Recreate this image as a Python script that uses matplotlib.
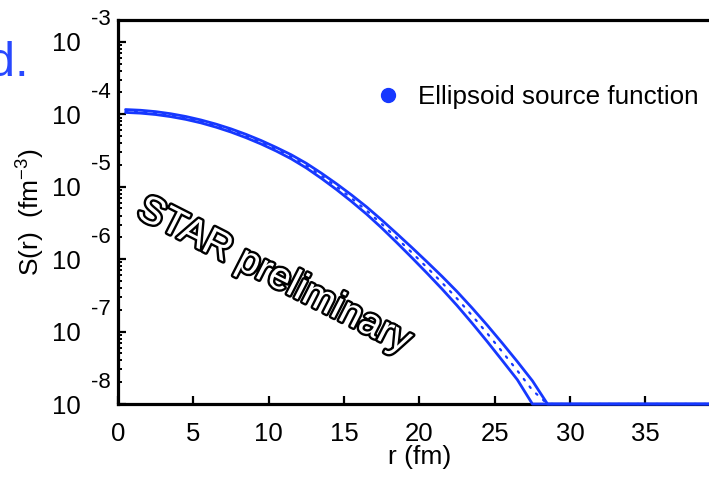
import numpy as np
import matplotlib
matplotlib.use("Agg")
import matplotlib.pyplot as plt
from matplotlib.lines import Line2D
import matplotlib.patheffects as pe
from matplotlib.ticker import FixedLocator, FixedFormatter, LogLocator, NullFormatter

plt.rcParams["font.family"] = ["Liberation Sans", "DejaVu Sans"]
plt.rcParams["mathtext.fontset"] = "custom"
plt.rcParams["mathtext.rm"] = "Liberation Sans"
plt.rcParams["mathtext.it"] = "Liberation Sans:italic"

# ---------------- data ----------------
r_fm = [0.5, 1.5, 2.5, 3.5, 4.5, 5.5, 6.5, 7.5, 8.5, 9.5,
        10.5, 11.5, 12.5, 13.5, 14.5, 15.5, 16.5, 17.5, 18.5, 19.5,
        20.5, 21.5, 22.5, 23.5, 24.5, 25.5, 26.5, 27.5, 28.5, 29.5,
        30.5, 31.5, 32.5, 33.5, 34.5, 35.5, 36.5, 37.5, 38.5, 39.5]

# log10 of S(r) [fm^-3]; values below the plot floor are drawn at the floor (1e-8)
log_S_central = [-3.955, -3.965, -3.984, -4.013, -4.051, -4.099, -4.157, -4.224, -4.301, -4.387,
                 -4.483, -4.588, -4.710, -4.850, -5.000, -5.160, -5.330, -5.515, -5.710, -5.910,
                 -6.115, -6.325, -6.545, -6.780, -7.025, -7.280, -7.540, -7.810, -8.0, -8.0,
                 -8.0, -8.0, -8.0, -8.0, -8.0, -8.0, -8.0, -8.0, -8.0, -8.0]
log_S_upper = [-3.935, -3.945, -3.964, -3.993, -4.031, -4.079, -4.136, -4.202, -4.278, -4.363,
               -4.458, -4.560, -4.678, -4.814, -4.960, -5.115, -5.280, -5.460, -5.648, -5.840,
               -6.037, -6.238, -6.449, -6.675, -6.912, -7.160, -7.415, -7.680, -8.0, -8.0,
               -8.0, -8.0, -8.0, -8.0, -8.0, -8.0, -8.0, -8.0, -8.0, -8.0]
log_S_lower = [-3.975, -3.985, -4.004, -4.033, -4.071, -4.119, -4.178, -4.246, -4.324, -4.411,
               -4.508, -4.616, -4.742, -4.886, -5.040, -5.205, -5.380, -5.570, -5.772, -5.980,
               -6.193, -6.412, -6.641, -6.885, -7.138, -7.400, -7.665, -8.0, -8.0, -8.0,
               -8.0, -8.0, -8.0, -8.0, -8.0, -8.0, -8.0, -8.0, -8.0, -8.0]

x_ticks = [0, 5, 10, 15, 20, 25, 30, 35]
x_tick_labels = ["0", "5", "10", "15", "20", "25", "30", "35"]
y_decades = [-8, -7, -6, -5, -4, -3]
y_exp_labels = ["-8", "-7", "-6", "-5", "-4", "-3"]

legend_label = "Ellipsoid source function"
watermark = "STAR preliminary"
panel_label = "d."

BLUE = "#1638ff"
PANEL_BLUE = "#2848ff"

# ---------------- figure ----------------
W, H = 709, 500
fig = plt.figure(figsize=(W / 100, H / 100), dpi=100)
ax = fig.add_axes([118 / W, (H - 404) / H, 602.8 / W, 384 / H])
ax.set_yscale("log")
ax.set_xlim(0, 40)
ax.set_ylim(1e-8, 2.0e-3)

r = np.array(r_fm)
ax.plot(r, 10 ** np.array(log_S_upper), color=BLUE, lw=2.0, clip_on=False, zorder=3,
        solid_joinstyle="round", solid_capstyle="round")
ax.plot(r, 10 ** np.array(log_S_lower), color=BLUE, lw=2.0, clip_on=False, zorder=3,
        solid_joinstyle="round", solid_capstyle="round")
ax.plot(r, 10 ** np.array(log_S_central), color=BLUE, lw=1.6, clip_on=False, zorder=3,
        linestyle=(0, (0.8, 3.5)), dash_capstyle="round")

# spines
for s in ["left", "bottom", "top"]:
    ax.spines[s].set_linewidth(2.3)
ax.spines["right"].set_visible(False)

# ticks
ax.xaxis.set_major_locator(FixedLocator(x_ticks))
ax.xaxis.set_major_formatter(FixedFormatter(x_tick_labels))
ax.yaxis.set_major_locator(FixedLocator([10.0 ** d for d in y_decades]))
ax.yaxis.set_major_formatter(FixedFormatter(["10"] * len(y_decades)))
ax.yaxis.set_minor_locator(LogLocator(base=10, subs=np.arange(2, 10), numticks=20))
ax.yaxis.set_minor_formatter(NullFormatter())
ax.tick_params(axis="both", which="major", direction="in", length=6, width=1.6,
               labelsize=18.5, top=False, right=False)
ax.tick_params(axis="x", which="major", pad=13)
ax.tick_params(axis="y", which="major", pad=27)
ax.tick_params(axis="y", which="minor", direction="in", length=3.2, width=1.4, right=False)
ax.tick_params(axis="x", which="minor", bottom=False, top=False)

# exponents above-right of the "10" tick labels
for d, lab in zip(y_decades, y_exp_labels):
    ax.annotate(lab, xy=(0, 10.0 ** d), xycoords=("axes fraction", "data"),
                xytext=(-7, 22), textcoords="offset pixels",
                ha="right", va="center", fontsize=16, annotation_clip=False)

ax.set_xlabel("r (fm)", fontsize=19)
ax.xaxis.set_label_coords(0.5, -0.106)
ax.set_ylabel(r"S(r)  (fm$^{-3}$)", fontsize=19)
ax.yaxis.set_label_coords(-0.118, 0.5)

# legend
handle = Line2D([], [], marker="o", linestyle="none", color=BLUE, markersize=10)
ax.legend(handles=[handle], labels=[legend_label], loc="center left",
          bbox_to_anchor=(375 / W, 1 - 97 / H), bbox_transform=fig.transFigure,
          frameon=False, fontsize=18.7, handlelength=1.0, handletextpad=0.66,
          borderpad=0, borderaxespad=0)

# watermark
fig.text(274 / W, 1 - 276 / H, watermark, fontsize=28, rotation=-27,
         rotation_mode="anchor", ha="center", va="center", color="white",
         path_effects=[pe.withStroke(linewidth=3.4, foreground="black")])

# panel label (partly cut at the left edge, as in the original)
fig.text(29 / W, 1 - 76 / H, panel_label, fontsize=35, color=PANEL_BLUE,
         ha="right", va="baseline")

fig.savefig("out.png", dpi=100)
